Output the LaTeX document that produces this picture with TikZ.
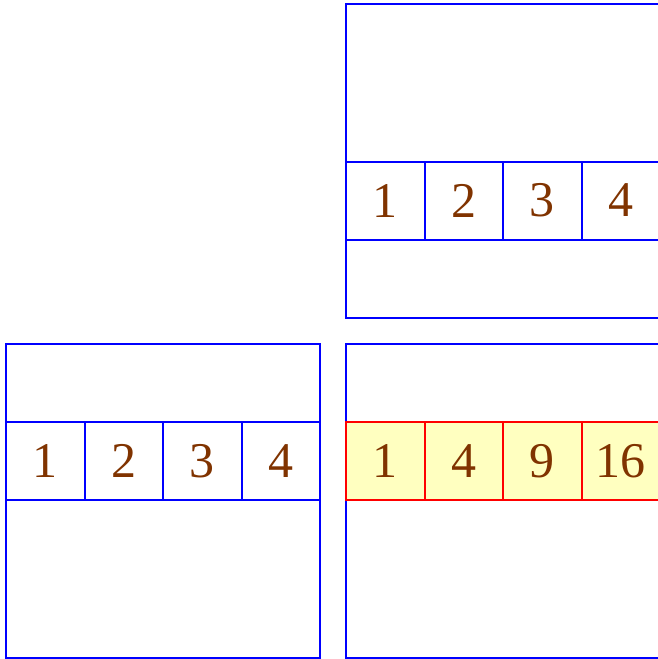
\documentclass[tikz,border=0pt]{standalone}
\usepackage{fontspec}
\setmainfont{Liberation Serif}
\definecolor{numbrown}{RGB}{128,51,0}
\definecolor{cellyellow}{RGB}{255,255,192}
\begin{document}
\begin{tikzpicture}[x=1pt,y=-1pt,
  outerbox/.style={draw=blue,line width=2pt,minimum width=314pt,minimum height=314pt,inner sep=0pt,outer sep=0pt},
  cellbox/.style={draw=blue,line width=2pt,minimum width=78.5pt,minimum height=78pt,inner sep=0pt,outer sep=0pt,
    text=numbrown,font=\fontsize{50}{50}\selectfont},
  hotcell/.style={cellbox,draw=red,fill=cellyellow}]
\useasboundingbox (0,0) rectangle (658,659);
\clip (0,0) rectangle (658,659);
% top-right box
\node[outerbox] (tr) at (503,161) {};
\foreach \i/\t in {1/1,2/2,3/3,4/4}
  \node[cellbox] (tr\i) at ({346+78.5*(\i-0.5)},200.5) {\t};
% bottom-left box
\node[outerbox] (bl) at (163,501) {};
\foreach \i/\t in {1/1,2/2,3/3,4/4}
  \node[cellbox] (bl\i) at ({6+78.5*(\i-0.5)},461) {\t};
% bottom-right box
\node[outerbox] (br) at (503,501) {};
\foreach \i/\t in {1/1,2/4,3/9,4/16}
  \node[hotcell] (br\i) at ({346+78.5*(\i-0.5)},461) {\t};
\end{tikzpicture}
\end{document}
